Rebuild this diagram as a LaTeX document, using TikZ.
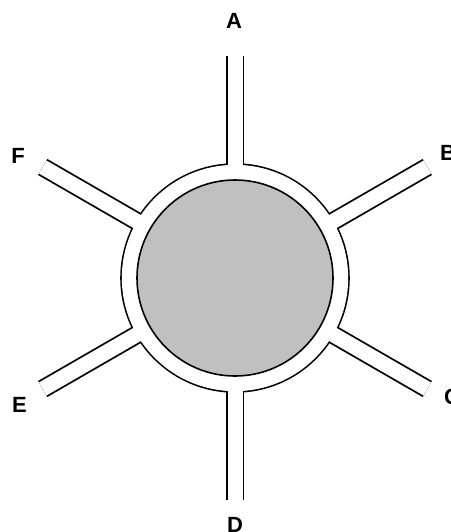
\documentclass[tikz,border=0pt]{standalone}
\usepackage{fontspec}
\setmainfont{Liberation Sans}
\begin{document}
\begin{tikzpicture}[x=1pt,y=-1pt,
  roadout/.style={line width=18.6pt,line cap=butt,draw=black},
  roadin/.style={line width=15pt,line cap=butt,draw=white},
  lbl/.style={font=\fontsize{22}{22}\selectfont\bfseries,inner sep=0pt}]
\useasboundingbox (0,0) rectangle (450,532);
\coordinate (O) at (235,278);
\coordinate (rA) at (235,56);
\coordinate (rB) at (427.3,167);
\coordinate (rC) at (427.3,389);
\coordinate (rD) at (235,500);
\coordinate (rE) at (42.7,389);
\coordinate (rF) at (42.7,167);
% black outlines
\fill[black] (O) circle (114.8);
\foreach \r in {rA,rB,rC,rD,rE,rF} \draw[roadout] (O) -- (\r);
% white interior
\fill[white] (O) circle (113.2);
\foreach \r in {rA,rB,rC,rD,rE,rF} \draw[roadin] (O) -- (\r);
% central circle
\draw[line width=1.6pt,fill={rgb,255:red,192;green,192;blue,192}] (O) circle (98);
% labels
\node[lbl] (A) at (234,21) {A};
\node[lbl,anchor=west] (B) at (440,152.5) {B};
\node[lbl,anchor=west] (C) at (444,397) {C};
\node[lbl] (D) at (235,525) {D};
\node[lbl] (E) at (19.5,405) {E};
\node[lbl] (F) at (18,156) {F};
\end{tikzpicture}
\end{document}
